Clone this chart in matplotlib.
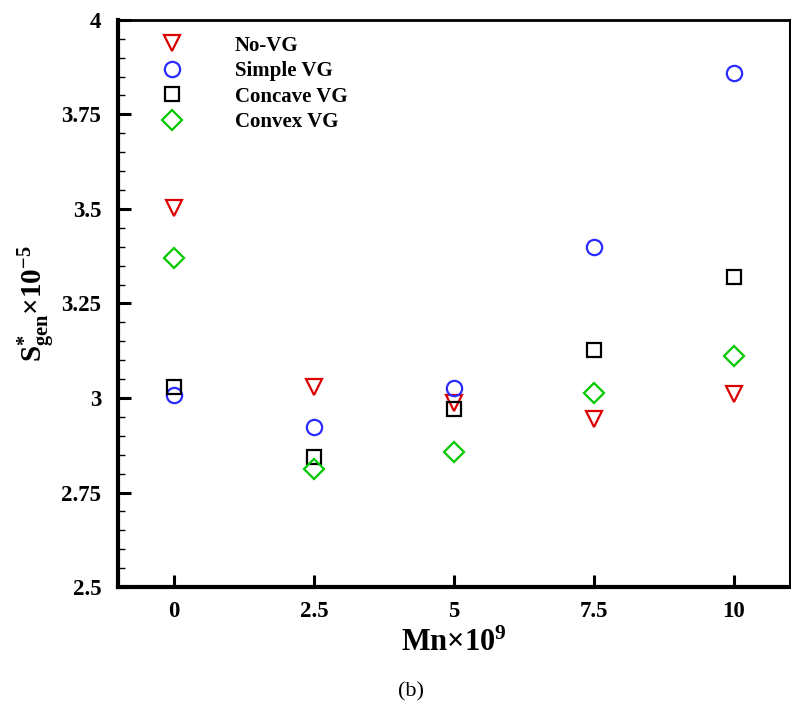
import numpy as np
import matplotlib
matplotlib.use("Agg")
import matplotlib.pyplot as plt
from matplotlib.ticker import MultipleLocator

plt.rcParams['font.family'] = 'serif'
plt.rcParams['font.serif'] = ['Liberation Serif', 'DejaVu Serif']
plt.rcParams['font.weight'] = 'bold'
plt.rcParams['mathtext.fontset'] = 'custom'
plt.rcParams['mathtext.rm'] = 'Liberation Serif'
plt.rcParams['mathtext.bf'] = 'Liberation Serif:bold'
plt.rcParams['mathtext.it'] = 'Liberation Serif:italic'

# data
mn = [0, 2.5, 5, 7.5, 10]
no_vg = [3.503, 3.030, 2.987, 2.944, 3.010]
simple_vg = [3.009, 2.922, 3.026, 3.400, 3.859]
concave_vg = [3.028, 2.844, 2.970, 3.127, 3.321]
convex_vg = [3.370, 2.812, 2.856, 3.013, 3.111]

series_names = ['No-VG', 'Simple VG', 'Concave VG', 'Convex VG']
x_ticks = [0, 2.5, 5, 7.5, 10]
x_ticklabels = ['0', '2.5', '5', '7.5', '10']
y_ticks = [2.5, 2.75, 3, 3.25, 3.5, 3.75, 4]
y_ticklabels = ['2.5', '2.75', '3', '3.25', '3.5', '3.75', '4']

fig = plt.figure(figsize=(7.91, 7.09), dpi=100)
ax = fig.add_axes([0.149, 0.172, 0.8497, 0.80])

red = '#dd0000'
blue = '#2b2bff'
green = '#00c800'

ax.plot(mn, no_vg, 'v', ms=12, mfc='none', mec=red, mew=1.6, label=series_names[0])
ax.plot(mn, simple_vg, 'o', ms=11, mfc='none', mec=blue, mew=1.6, label=series_names[1])
ax.plot(mn, concave_vg, 's', ms=9.5, mfc='none', mec='black', mew=1.6, label=series_names[2])
ax.plot(mn, convex_vg, 'D', ms=10, mfc='none', mec=green, mew=1.6, label=series_names[3])

ax.set_xlim(-1, 11)
ax.set_ylim(2.5, 4)
ax.set_xticks(x_ticks)
ax.set_xticklabels(x_ticklabels)
ax.set_yticks(y_ticks)
ax.set_yticklabels(y_ticklabels)
ax.yaxis.set_minor_locator(MultipleLocator(0.05))

ax.tick_params(axis='both', which='major', direction='in', length=9, width=2.2,
               labelsize=16.5, top=False, right=False)
ax.tick_params(axis='y', which='minor', direction='in', length=5, width=1, right=False)
ax.tick_params(axis='x', pad=10)
ax.tick_params(axis='y', pad=12)

ax.spines['left'].set_linewidth(3)
ax.spines['bottom'].set_linewidth(3)
ax.spines['top'].set_linewidth(2)
ax.spines['right'].set_linewidth(1.5)

ax.set_xlabel(r'Mn$\times$10$^{\mathbf{9}}$', fontsize=22, fontweight='bold', labelpad=5)
ax.set_ylabel(r'$\mathbf{S^{*}_{gen}}$$\times$$\mathbf{10^{-5}}$', fontsize=21, labelpad=2)

leg = ax.legend(loc='upper left', bbox_to_anchor=(0.0494, 0.972), frameon=False,
                borderaxespad=0, borderpad=0, handlelength=2.0, handletextpad=2.03,
                labelspacing=0.26, prop={'size': 15, 'weight': 'bold'})

fig.text(0.52, 0.024, '(b)', fontsize=16, fontweight='normal', ha='center', va='center')

fig.savefig('out.png', dpi=100)
